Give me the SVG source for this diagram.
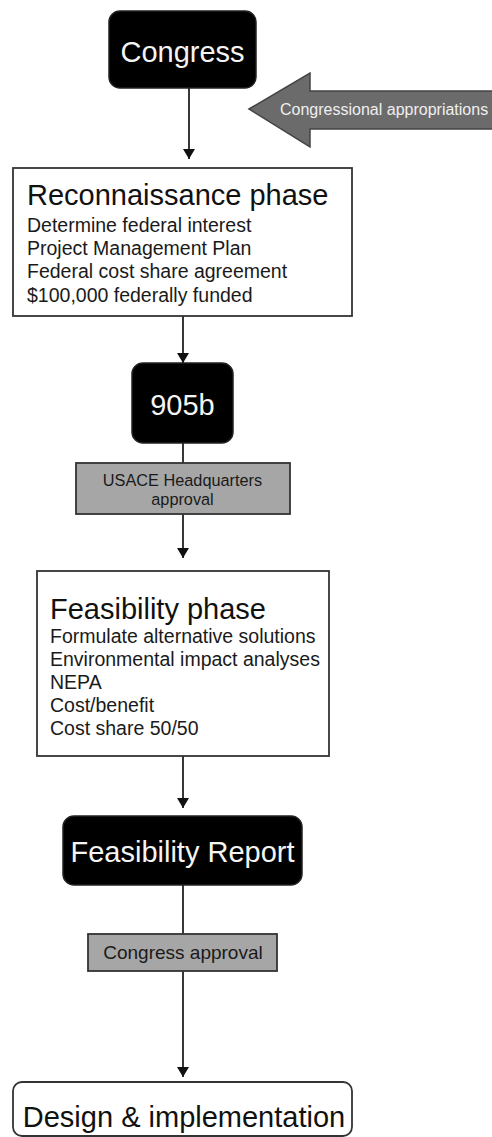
<svg xmlns="http://www.w3.org/2000/svg" width="492" height="1137" viewBox="0 0 492 1137">
<style>
  text { font-family: "Liberation Sans", Arial, sans-serif; }
  .blk { fill: #000; stroke: #222; stroke-width: 1.5; }
  .wht { fill: #fff; stroke: #333; stroke-width: 1.8; }
  .gry { fill: #a6a6a6; stroke: #333; stroke-width: 1.8; }
  .t29w { font-size: 29px; fill: #f4f4f4; text-anchor: middle; }
  .t29 { font-size: 29px; fill: #111; }
  .body { font-size: 19.5px; fill: #1a1a1a; }
  .small { fill: #1a1a1a; text-anchor: middle; }
  .conn { stroke: #222; stroke-width: 1.8; fill: none; }
</style>
<defs>
  <marker id="ah" viewBox="0 0 10 12" refX="10" refY="6" markerWidth="10" markerHeight="12" markerUnits="userSpaceOnUse" orient="auto">
    <path d="M0,0 L10,6 L0,12 Z" fill="#111"/>
  </marker>
</defs>

<g id="connectors">
  <line class="conn" x1="189" y1="88" x2="189" y2="159" marker-end="url(#ah)"/>
  <line class="conn" x1="183" y1="316" x2="183" y2="363" marker-end="url(#ah)"/>
  <line class="conn" x1="183" y1="443" x2="183" y2="463"/>
  <line class="conn" x1="183" y1="514" x2="183" y2="558" marker-end="url(#ah)"/>
  <line class="conn" x1="183" y1="756" x2="183" y2="808" marker-end="url(#ah)"/>
  <line class="conn" x1="183" y1="885" x2="183" y2="934"/>
  <line class="conn" x1="183" y1="971" x2="183" y2="1077" marker-end="url(#ah)"/>
</g>

<g id="appropriations">
  <path d="M249,109 L310,73 L310,91 L494,91 L494,129 L310,129 L310,147 Z" fill="#6b6b6b" stroke="#444" stroke-width="1.5"/>
  <text x="280" y="115" font-size="16" fill="#efefef">Congressional appropriations</text>
</g>

<g id="congress">
  <rect class="blk" x="109" y="11" width="147" height="77" rx="11"/>
  <text class="t29w" x="182.5" y="62">Congress</text>
</g>

<g id="reconnaissance">
  <rect class="wht" x="13" y="168" width="339" height="148"/>
  <text class="t29" x="27" y="205">Reconnaissance phase</text>
  <text class="body" x="27" y="231.7">Determine federal interest</text>
  <text class="body" x="27" y="255">Project Management Plan</text>
  <text class="body" x="27" y="278.3">Federal cost share agreement</text>
  <text class="body" x="27" y="301.6">$100,000 federally funded</text>
</g>

<g id="n905b">
  <rect class="blk" x="132" y="363" width="101" height="80" rx="11"/>
  <text class="t29w" x="182.5" y="415">905b</text>
</g>

<g id="usace">
  <rect class="gry" x="76" y="463" width="214" height="51"/>
  <text class="small" x="182.5" y="485.5" font-size="16.3">USACE Headquarters</text>
  <text class="small" x="182.5" y="505" font-size="16.3">approval</text>
</g>

<g id="feasibility">
  <rect class="wht" x="37" y="571" width="292" height="185"/>
  <text class="t29" x="50" y="619">Feasibility phase</text>
  <text class="body" x="50" y="643">Formulate alternative solutions</text>
  <text class="body" x="50" y="666">Environmental impact analyses</text>
  <text class="body" x="50" y="689">NEPA</text>
  <text class="body" x="50" y="712">Cost/benefit</text>
  <text class="body" x="50" y="735">Cost share 50/50</text>
</g>

<g id="report">
  <rect class="blk" x="63" y="816" width="239" height="69" rx="11"/>
  <text class="t29w" x="182.5" y="862">Feasibility Report</text>
</g>

<g id="congress-approval">
  <rect class="gry" x="88" y="934" width="189" height="37"/>
  <text class="small" x="183" y="959" font-size="19">Congress approval</text>
</g>

<g id="design">
  <rect class="wht" x="13" y="1082" width="339" height="54" rx="9"/>
  <text class="t29" x="184" y="1127" text-anchor="middle">Design &amp; implementation</text>
</g>
</svg>
